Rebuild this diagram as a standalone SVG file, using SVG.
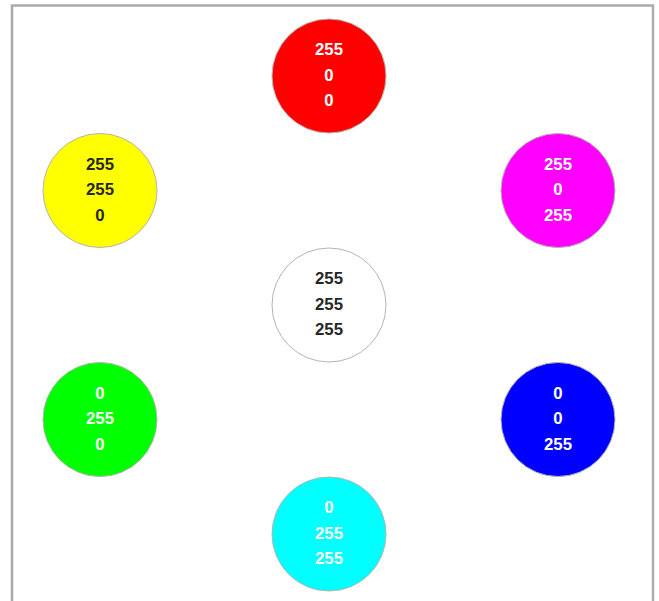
<svg xmlns="http://www.w3.org/2000/svg" width="659" height="601" viewBox="0 0 659 601">
<style>
.frame{fill:#fff;stroke:#ababab;stroke-width:2.5}
.node circle{stroke:#b4b4b4;stroke-width:1}
.node text{font-family:"Liberation Sans",Arial,sans-serif;font-weight:bold;font-size:16.8px;text-anchor:middle}
.lt text{fill:#ffffff}
.dk text{fill:#262626}
</style>
<rect width="659" height="601" fill="#fff"/>
<rect class="frame" x="12" y="5.5" width="641" height="610"/>
<g id="connectors"></g>
<g id="red" class="node lt"><circle cx="329" cy="76" r="57" fill="#ff0000"/><text x="329" y="55">255</text><text x="329" y="80.5">0</text><text x="329" y="106">0</text></g>
<g id="yellow" class="node dk"><circle cx="100" cy="190.5" r="57" fill="#ffff00"/><text x="100" y="169.5">255</text><text x="100" y="195">255</text><text x="100" y="220.5">0</text></g>
<g id="magenta" class="node lt"><circle cx="558" cy="190.5" r="57" fill="#ff00ff"/><text x="558" y="169.5">255</text><text x="558" y="195">0</text><text x="558" y="220.5">255</text></g>
<g id="white" class="node dk"><circle cx="329" cy="305" r="57" fill="#ffffff"/><text x="329" y="284">255</text><text x="329" y="309.5">255</text><text x="329" y="335">255</text></g>
<g id="green" class="node lt"><circle cx="100" cy="419.5" r="57" fill="#00ff00"/><text x="100" y="398.5">0</text><text x="100" y="424">255</text><text x="100" y="449.5">0</text></g>
<g id="blue" class="node lt"><circle cx="558" cy="419.5" r="57" fill="#0000ff"/><text x="558" y="398.5">0</text><text x="558" y="424">0</text><text x="558" y="449.5">255</text></g>
<g id="cyan" class="node lt"><circle cx="329" cy="534" r="57" fill="#00ffff"/><text x="329" y="513">0</text><text x="329" y="538.5">255</text><text x="329" y="564">255</text></g>
</svg>
